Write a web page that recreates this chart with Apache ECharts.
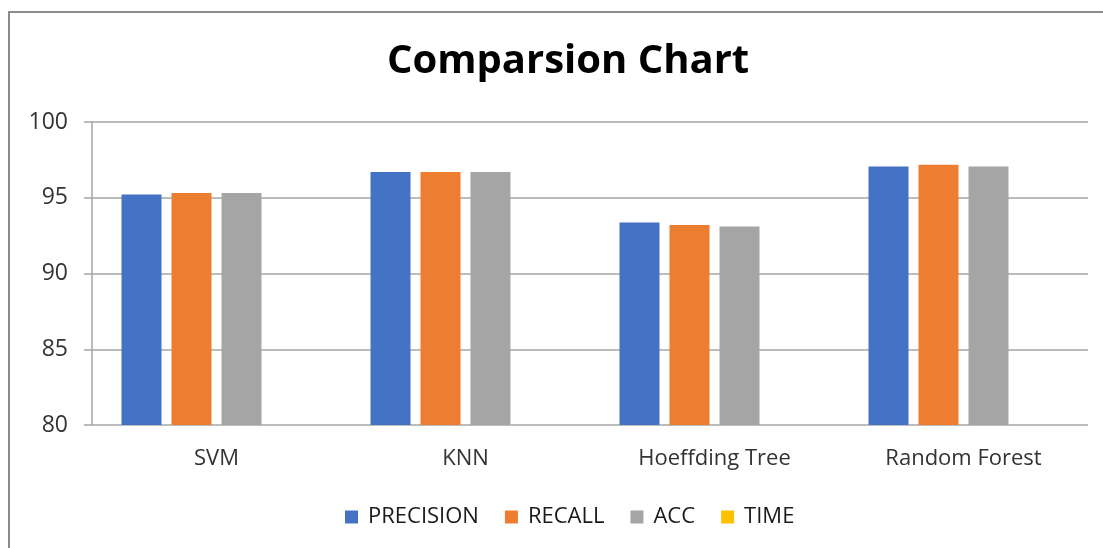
<!DOCTYPE html>
<html>
<head>
<meta charset="utf-8">
<script src="https://cdn.jsdelivr.net/npm/echarts@6/dist/echarts.min.js"></script>
<style>
html, body { margin: 0; padding: 0; background: #fff; }
#frame { position: absolute; left: 8px; top: 11px; width: 1200px; height: 600px; border-left: 2px solid #8c8c8c; border-top: 2px solid #8c8c8c; }
#chart { position: absolute; left: 0; top: 0; width: 1103px; height: 548px; }
</style>
</head>
<body>
<div id="frame"></div>
<div id="chart"></div>
<script>
var categories = ['SVM', 'KNN', 'Hoeffding Tree', 'Random Forest'];
var precision = [95.22, 96.7, 93.36, 97.07];
var recall = [95.31, 96.7, 93.2, 97.17];
var acc = [95.31, 96.7, 93.11, 97.07];
var time = ['-', '-', '-', '-'];
var yTicks = [80, 85, 90, 95, 100];

var font = '"Open Sans", "Liberation Sans", sans-serif';
var chart = echarts.init(document.getElementById('chart'));
var option = {
	animation: false,
	title: {
		text: 'Comparsion Chart',
		left: 382,
		top: 37,
		textStyle: { fontFamily: font, fontSize: 40, fontWeight: 'bold', color: '#000' }
	},
	legend: {
		bottom: 15,
		left: 340,
		itemWidth: 13,
		itemHeight: 13,
		itemGap: 26,
		icon: 'rect',
		textStyle: { fontFamily: font, fontSize: 22, color: '#1a1a1a', padding: [0, 0, 0, 5] },
		data: ['PRECISION', 'RECALL', 'ACC', 'TIME']
	},
	grid: { left: 92, right: 15, top: 122, bottom: 123 },
	xAxis: {
		type: 'category',
		data: categories,
		axisTick: { show: false },
		axisLine: { show: false },
		axisLabel: { fontFamily: font, fontSize: 22, color: '#333', margin: 23 }
	},
	yAxis: {
		type: 'value',
		min: yTicks[0],
		max: yTicks[yTicks.length - 1],
		interval: 5,
		axisLine: { show: true, lineStyle: { color: '#a6a6a6', width: 1.5 } },
		axisTick: { show: true, length: 8, lineStyle: { color: '#a6a6a6', width: 1.5 } },
		splitLine: { lineStyle: { color: '#a6a6a6', width: 1.5 } },
		axisLabel: { fontFamily: font, fontSize: 23, color: '#333', margin: 24 }
	},
	series: [
		{ name: 'PRECISION', type: 'bar', data: precision, barWidth: 40, barGap: '25%', barCategoryGap: '24%', itemStyle: { color: '#4472c4' } },
		{ name: 'RECALL', type: 'bar', data: recall, barWidth: 40, barGap: '25%', itemStyle: { color: '#ed7d31' } },
		{ name: 'ACC', type: 'bar', data: acc, barWidth: 40, barGap: '25%', itemStyle: { color: '#a5a5a5' } },
		{ name: 'TIME', type: 'bar', data: time, barWidth: 40, barGap: '25%', itemStyle: { color: '#ffc000' } }
	]
};
chart.setOption(option);
</script>
</body>
</html>
